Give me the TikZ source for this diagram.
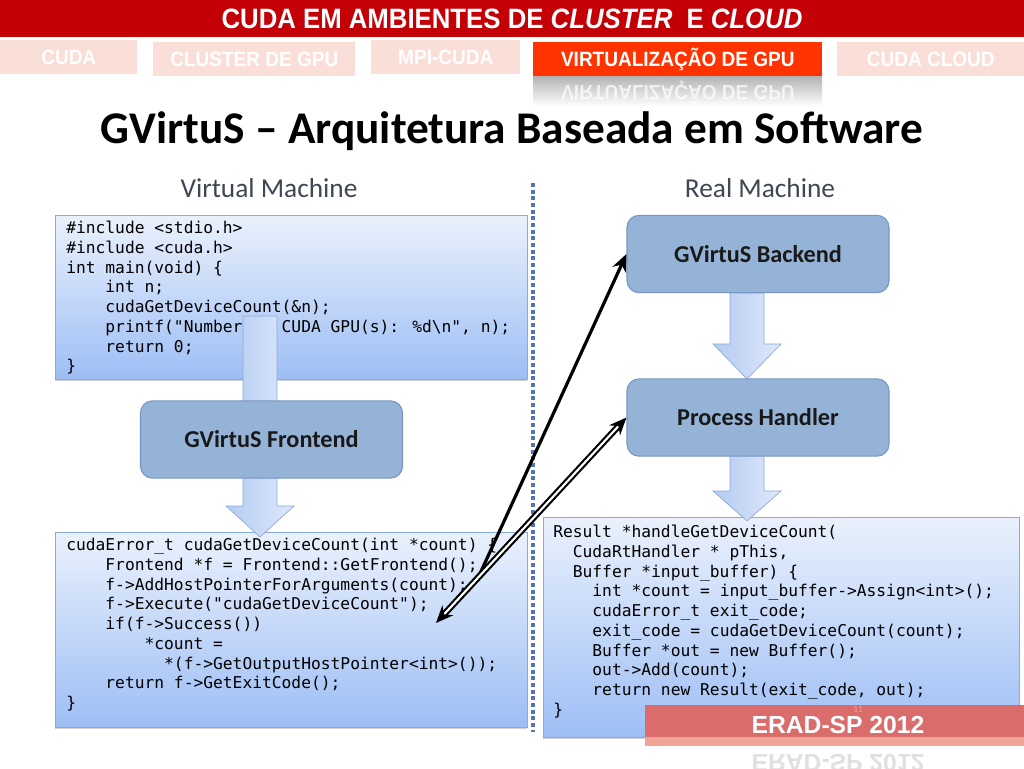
\documentclass[tikz,border=0pt]{standalone}
\usepackage{fontspec}
\setmainfont{Carlito}
\newfontfamily\hdrf[FakeStretch=0.92]{Liberation Sans}
\newfontfamily\arialf{Liberation Sans}
\newfontfamily\codef{DejaVu Sans Mono}
\usetikzlibrary{arrows.meta,shadows}
\definecolor{hdrred}{RGB}{194,0,6}
\definecolor{tabpink}{RGB}{250,222,216}
\definecolor{tabact}{RGB}{255,51,0}
\definecolor{nodefill}{RGB}{149,179,215}
\definecolor{nodeborder}{RGB}{120,150,195}
\definecolor{codetop}{RGB}{234,241,252}
\definecolor{codebot}{RGB}{157,190,245}
\definecolor{codeborder}{RGB}{140,170,215}
\definecolor{labelgray}{RGB}{64,70,84}
\definecolor{dotblue}{RGB}{85,115,175}
\definecolor{arrtop}{RGB}{222,232,250}
\definecolor{arrbot}{RGB}{180,203,242}
\definecolor{footred}{RGB}{218,108,108}
\definecolor{footlight}{RGB}{242,165,150}
\newcommand\ind[1]{\phantom{#1}}
\newcommand\barrow[4]{\shadedraw[blockarr] (#1-17,#2) -- (#1+17,#2) -- (#1+17,#3) -- (#1+34,#3) -- (#1,#4) -- (#1-34,#3) -- (#1-17,#3) -- cycle;}
\tikzset{
  tabfaint/.style={fill=tabpink, text=white, inner sep=0pt, font=\hdrf\bfseries\fontsize{15.5}{18}\selectfont},
  tabactive/.style={fill=tabact, text=white, inner sep=0pt, font=\hdrf\bfseries\fontsize{15.5}{18}\selectfont},
  codebox/.style={draw=codeborder, line width=0.6pt, top color=codetop, bottom color=codebot, inner sep=0pt,
     anchor=north west, drop shadow={opacity=0.35, shadow xshift=0pt, shadow yshift=-1.2pt}},
  codetext/.style={anchor=north west, inner sep=0pt, align=left, font=\codef\fontsize{12.2}{14.8}\selectfont},
  procbox/.style={draw=nodeborder, fill=nodefill, rounded corners=9pt, line width=0.8pt,
     minimum width=196.5pt, minimum height=58pt, inner sep=0pt, text=black!90,
     font=\bfseries\fontsize{18.2}{21}\selectfont},
  lbl/.style={text=labelgray, font=\fontsize{20.5}{24}\selectfont},
  blockarr/.style={draw=codeborder, line width=0.5pt, left color=arrbot, right color=arrtop},
  blk/.style={line width=2.4pt, black},
  dbl/.style={line width=1.6pt, black, double=white, double distance=1.6pt},
  mytip/.tip={Stealth[length=13pt,width=11pt]}
}
\begin{document}
\begin{tikzpicture}[x=0.75pt,y=-0.75pt]
\useasboundingbox (0,0) rectangle (1024,768);
\fill[white] (0,0) rectangle (1024,768);
% header
\fill[hdrred] (0,0) rectangle (1024,37);
\node[text=white, font=\hdrf\bfseries\fontsize{21}{25}\selectfont] (hdr) at (512,19)
  {CUDA EM AMBIENTES DE \textit{CLUSTER}\hspace{0.25em} E \textit{CLOUD}};
% tabs
\node[tabfaint, minimum width=102.75pt, minimum height=25.5pt, anchor=north west] (t1) at (0,40) {CUDA};
\node[tabfaint, minimum width=151.5pt, minimum height=25.5pt, anchor=north west] (t2) at (153,42) {CLUSTER DE GPU};
\node[tabfaint, minimum width=111.75pt, minimum height=25.5pt, anchor=north west] (t3) at (371,40) {MPI-CUDA};
\node[tabactive, minimum width=216.75pt, minimum height=25.5pt, anchor=north west] (t4) at (533,42) {VIRTUALIZAÇÃO DE GPU};
\node[tabfaint, minimum width=140.25pt, minimum height=25.5pt, anchor=north west] (t5) at (837,42) {CUDA CLOUD};
\shade[top color=black!30, bottom color=white] (533,76) rectangle (822,106);
\node[yscale=-1, text=white, opacity=0.7, font=\hdrf\bfseries\fontsize{15.5}{18}\selectfont] (t4r) at (678,93) {VIRTUALIZAÇÃO DE GPU};
% title
\node[font=\bfseries\fontsize{34}{40}\selectfont] (title) at (512,131) {GVirtuS – Arquitetura Baseada em Software};
\node[lbl] (vm) at (269,188) {Virtual Machine};
\node[lbl] (rm) at (760,188) {Real Machine};
% divider
\draw[dotblue, line width=2.6pt, dash pattern=on 3pt off 2pt] (533,183) -- (533,732);
% code boxes
\node[codebox, minimum width=354pt, minimum height=123pt] (cb1) at (55,215) {};
\node[codebox, minimum width=354pt, minimum height=146.25pt] (cb2) at (55,532) {};
\node[codebox, minimum width=357pt, minimum height=165pt] (cb3) at (543,517) {};
\node[codetext] (c1) at (66,221) {\#include <stdio.h>\\
\#include <cuda.h>\\
int main(void) \{\\
\ind{0000}int n;\\
\ind{0000}cudaGetDeviceCount(\&n);\\
\ind{0000}printf("Number of CUDA GPU(s): \%d\textbackslash n", n);\\
\ind{0000}return 0;\\
\}};
\node[codetext] (c2) at (66,538) {cudaError\_t cudaGetDeviceCount(int *count) \{\\
\ind{0000}Frontend *f = Frontend::GetFrontend();\\
\ind{0000}f->AddHostPointerForArguments(count);\\
\ind{0000}f->Execute("cudaGetDeviceCount");\\
\ind{0000}if(f->Success())\\
\ind{00000000}*count =\\
\ind{0000000000}*(f->GetOutputHostPointer<int>());\\
\ind{0000}return f->GetExitCode();\\
\}};
\node[codetext] (c3) at (553,525) {Result *handleGetDeviceCount(\\
\ind{00}CudaRtHandler * pThis,\\
\ind{00}Buffer *input\_buffer) \{\\
\ind{0000}int *count = input\_buffer->Assign<int>();\\
\ind{0000}cudaError\_t exit\_code;\\
\ind{0000}exit\_code = cudaGetDeviceCount(count);\\
\ind{0000}Buffer *out = new Buffer();\\
\ind{0000}out->Add(count);\\
\ind{0000}return new Result(exit\_code, out);\\
\}};
% block arrows
\barrow{260}{316}{506}{537}
\barrow{747}{293}{344}{379}
\barrow{747}{440}{491}{521}
% process nodes
\node[procbox] (fe) at (271.5,439.5) {GVirtuS Frontend};
\node[procbox] (be) at (758,254) {GVirtuS Backend};
\node[procbox] (ph) at (758,417.5) {Process Handler};
% black arrows
\coordinate (sa) at (478,578);
\coordinate (da) at (436,623);
\draw[blk, -{mytip}] (sa) -- (be.west);
\draw[dbl, {mytip}-{mytip}] (da) -- (ph.west);
% footer
\fill[footlight] (645,737) rectangle (1024,746);
\node[fill=footred, minimum width=284.25pt, minimum height=24pt, inner sep=0pt, anchor=north west] (foot) at (645,705) {};
\node[text=white, font=\arialf\bfseries\fontsize{18.5}{22}\selectfont] (foottxt) at (838,725) {ERAD-SP 2012};
\node[text=footlight, font=\fontsize{7}{8}\selectfont] (pg) at (858,709) {11};
\node[yscale=-1, text=black!12, font=\arialf\bfseries\fontsize{18.5}{22}\selectfont] (footr) at (838,763) {ERAD-SP 2012};
\end{tikzpicture}
\end{document}
